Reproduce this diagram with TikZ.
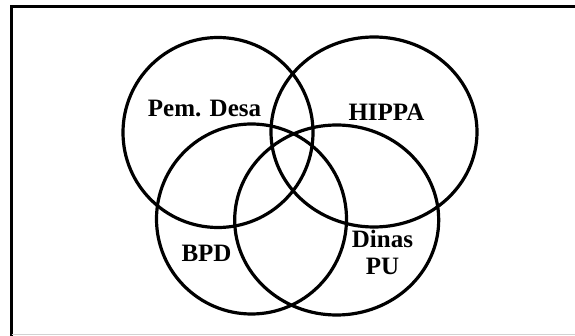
\documentclass[tikz,border=0pt]{standalone}
\usepackage{fontspec}
\setmainfont{Liberation Serif}
\usetikzlibrary{shapes.geometric}

\begin{document}
\begin{tikzpicture}[x=1pt,y=-1pt,
    ring/.style={draw,line width=3.2pt,inner sep=0pt},
    lbl/.style={font=\bfseries\fontsize{25}{27.3}\selectfont,anchor=base,inner sep=0pt,align=center}]
  \useasboundingbox (0,0) rectangle (575,336);
  % frame
  \draw[line width=2.6pt] (11.7,336) -- (11.7,6.3) -- (575,6.3);
  \draw[gray!35,line width=1.5pt] (11.7,334.6) -- (575,334.6);
  % sets
  \node[ring,circle,minimum size=190pt] (desa) at (218,132.5) {};
  \node[ring,ellipse,minimum width=206pt,minimum height=190pt] (hippa) at (374,132) {};
  \node[ring,circle,minimum size=190pt] (bpd) at (251.5,219) {};
  \node[ring,ellipse,minimum width=204pt,minimum height=190pt] (pu) at (336.7,220) {};
  % names
  \node[lbl] (tdesa) at (204.5,117) {Pem. Desa};
  \node[lbl] (thippa) at (386.5,120.7) {HIPPA};
  \node[lbl] (tbpd) at (206.5,261.7) {BPD};
  \node[lbl] (tpu) at (382.5,275) {Dinas\\PU};
\end{tikzpicture}
\end{document}
